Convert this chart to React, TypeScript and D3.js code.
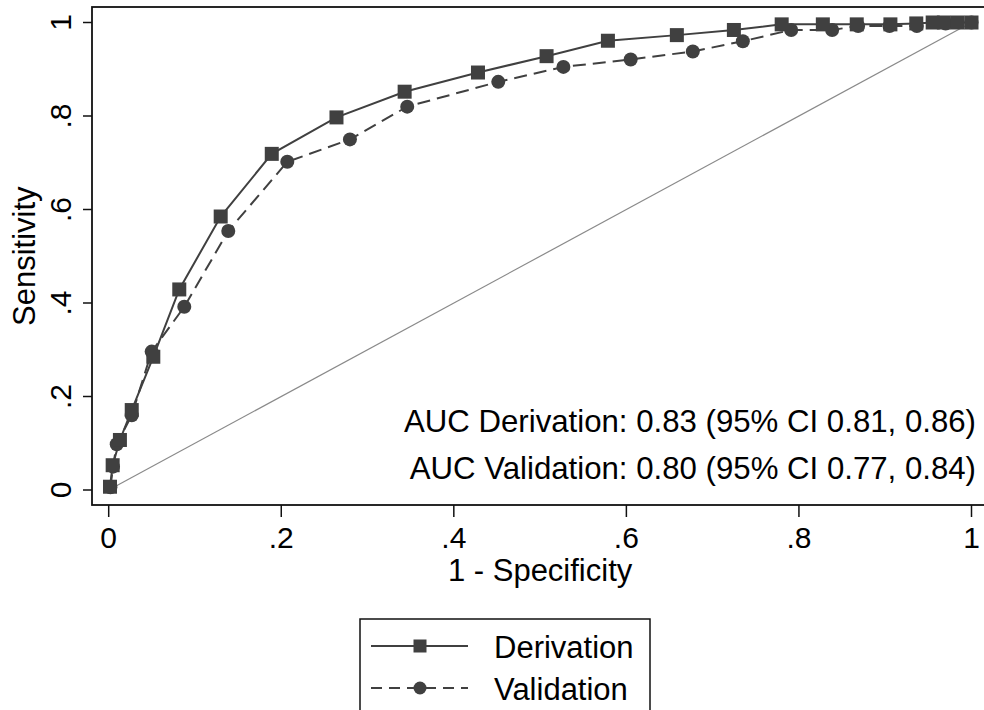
import React, { useEffect, useRef } from "react";
import * as d3 from "d3";

const derivX = [0.0015, 0.0046, 0.013, 0.0267, 0.0517, 0.0818, 0.1298, 0.189, 0.264, 0.343, 0.428, 0.5075, 0.5786, 0.6585, 0.7246, 0.780, 0.8277, 0.867, 0.906, 0.936, 0.955, 0.968, 0.984, 1.0];
const derivY = [0.007, 0.053, 0.107, 0.171, 0.285, 0.429, 0.585, 0.719, 0.797, 0.852, 0.893, 0.928, 0.961, 0.973, 0.984, 0.996, 0.996, 0.996, 0.996, 0.998, 1.0, 1.0, 1.0, 1.0];
const validX = [0.002, 0.005, 0.0093, 0.0267, 0.0498, 0.0876, 0.1386, 0.207, 0.2796, 0.346, 0.4515, 0.527, 0.605, 0.677, 0.735, 0.791, 0.8385, 0.8686, 0.905, 0.9366, 0.97, 1.0];
const validY = [0.006, 0.05, 0.098, 0.16, 0.296, 0.392, 0.554, 0.702, 0.75, 0.82, 0.873, 0.905, 0.921, 0.938, 0.96, 0.984, 0.984, 0.9925, 0.9925, 0.9925, 0.998, 1.0];
const tickValues = [0, 0.2, 0.4, 0.6, 0.8, 1];
const tickLabels = ["0", ".2", ".4", ".6", ".8", "1"];
const aucLines = [
  "AUC Derivation: 0.83 (95% CI 0.81, 0.86)",
  "AUC Validation: 0.80 (95% CI 0.77, 0.84)",
];
const seriesNames = ["Derivation", "Validation"];

const W = 984;
const H = 710;
const FONT = "'Liberation Sans', Arial, Helvetica, sans-serif";
const MARK = "#404040";

export default function App() {
  const ref = useRef<SVGSVGElement | null>(null);

  useEffect(() => {
    const svg = d3.select(ref.current);
    svg.selectAll("*").remove();

    const x = d3.scaleLinear().domain([0, 1]).range([108.7, 971.5]);
    const y = d3.scaleLinear().domain([0, 1]).range([490, 22.5]);

    const frame = { left: 92, top: 7, right: 988, bottom: 505 };

    svg.append("rect").attr("width", W).attr("height", H).attr("fill", "#fff");

    // diagonal reference
    svg.append("line")
      .attr("x1", x(0)).attr("y1", y(0)).attr("x2", x(1)).attr("y2", y(1))
      .attr("stroke", "#8a8a8a").attr("stroke-width", 1.2);

    const line = d3.line<[number, number]>().x((d) => x(d[0])).y((d) => y(d[1]));
    const dData = derivX.map((v, i) => [v, derivY[i]] as [number, number]);
    const vData = validX.map((v, i) => [v, validY[i]] as [number, number]);

    svg.append("path").attr("d", line(vData)!).attr("fill", "none")
      .attr("stroke", MARK).attr("stroke-width", 2).attr("stroke-dasharray", "13,7");
    svg.append("path").attr("d", line(dData)!).attr("fill", "none")
      .attr("stroke", MARK).attr("stroke-width", 2);

    const sq = 14;
    svg.append("g").selectAll("circle").data(vData).enter().append("circle")
      .attr("cx", (d) => x(d[0])).attr("cy", (d) => y(d[1])).attr("r", 7).attr("fill", MARK);
    svg.append("g").selectAll("rect").data(dData).enter().append("rect")
      .attr("x", (d) => x(d[0]) - sq / 2).attr("y", (d) => y(d[1]) - sq / 2)
      .attr("width", sq).attr("height", sq).attr("fill", MARK);

    // frame
    svg.append("rect")
      .attr("x", frame.left).attr("y", frame.top)
      .attr("width", frame.right - frame.left).attr("height", frame.bottom - frame.top)
      .attr("fill", "none").attr("stroke", "#111").attr("stroke-width", 1.8);

    // y axis ticks
    const yg = svg.append("g");
    tickValues.forEach((t, i) => {
      yg.append("line").attr("x1", 83).attr("x2", frame.left).attr("y1", y(t)).attr("y2", y(t))
        .attr("stroke", "#111").attr("stroke-width", 1.5);
      yg.append("text")
        .attr("transform", `translate(71,${y(t)}) rotate(-90)`)
        .attr("text-anchor", "middle").attr("font-family", FONT).attr("font-size", 30)
        .attr("fill", "#000").text(tickLabels[i]);
    });
    svg.append("text")
      .attr("transform", `translate(35,${(y(0) + y(1)) / 2}) rotate(-90)`)
      .attr("text-anchor", "middle").attr("font-family", FONT).attr("font-size", 31)
      .text("Sensitivity");

    // x axis ticks
    const xg = svg.append("g");
    tickValues.forEach((t, i) => {
      xg.append("line").attr("x1", x(t)).attr("x2", x(t)).attr("y1", frame.bottom).attr("y2", 517)
        .attr("stroke", "#111").attr("stroke-width", 1.5);
      xg.append("text").attr("x", x(t)).attr("y", 548)
        .attr("text-anchor", "middle").attr("font-family", FONT).attr("font-size", 30)
        .text(tickLabels[i]);
    });
    svg.append("text").attr("x", (x(0) + x(1)) / 2).attr("y", 581)
      .attr("text-anchor", "middle").attr("font-family", FONT).attr("font-size", 31)
      .text("1 - Specificity");

    // AUC text
    aucLines.forEach((s, i) => {
      svg.append("text").attr("x", 976).attr("y", 432 + i * 47)
        .attr("text-anchor", "end").attr("font-family", FONT).attr("font-size", 31.2)
        .text(s);
    });

    // legend
    const lg = svg.append("g");
    lg.append("rect").attr("x", 360).attr("y", 619).attr("width", 290).attr("height", 110)
      .attr("fill", "#fff").attr("stroke", "#111").attr("stroke-width", 1.5);
    const ly = [646, 688];
    ly.forEach((yy, i) => {
      lg.append("line").attr("x1", 371).attr("x2", 468).attr("y1", yy).attr("y2", yy)
        .attr("stroke", MARK).attr("stroke-width", 2)
        .attr("stroke-dasharray", i === 1 ? "11,7" : null);
      if (i === 0) {
        lg.append("rect").attr("x", 420 - 6.5).attr("y", yy - 6.5).attr("width", 13).attr("height", 13).attr("fill", MARK);
      } else {
        lg.append("circle").attr("cx", 420).attr("cy", yy).attr("r", 6.5).attr("fill", MARK);
      }
      lg.append("text").attr("x", 494).attr("y", yy + 12)
        .attr("font-family", FONT).attr("font-size", 31).text(seriesNames[i]);
    });
  }, []);

  return (
    <svg ref={ref} width={W} height={H}
      style={{ position: "absolute", left: 0, top: 0, display: "block" }} />
  );
}
